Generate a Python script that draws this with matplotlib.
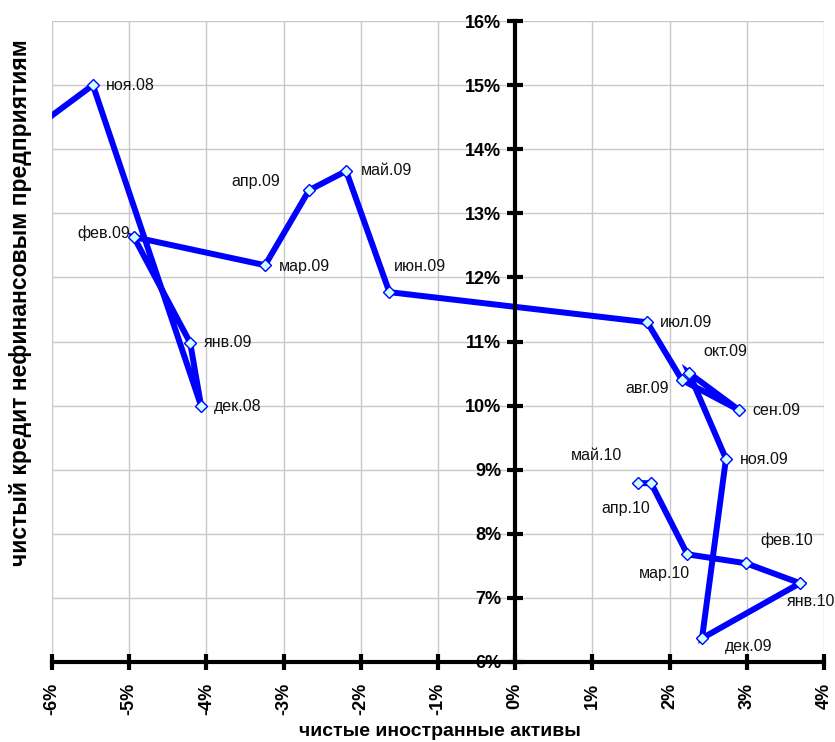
import matplotlib
matplotlib.use("Agg")
import matplotlib.pyplot as plt
from matplotlib.ticker import FuncFormatter, MultipleLocator

plt.rcParams['font.family'] = ['Liberation Sans', 'DejaVu Sans']

labels = ["", "ноя.08", "дек.08", "янв.09", "фев.09", "мар.09", "апр.09", "май.09",
          "июн.09", "июл.09", "авг.09", "сен.09", "окт.09", "ноя.09", "дек.09",
          "янв.10", "фев.10", "мар.10", "апр.10", "май.10"]
foreign_assets = [-6.5, -5.47, -4.07, -4.21, -4.94, -3.24, -2.67, -2.19,
                  -1.63, 1.71, 2.16, 2.90, 2.25, 2.73, 2.42,
                  3.69, 2.99, 2.23, 1.76, 1.59]
credit = [14.08, 15.00, 10.00, 10.98, 12.63, 12.19, 13.36, 13.66,
          11.77, 11.30, 10.40, 9.93, 10.51, 9.17, 6.37,
          7.23, 7.54, 7.68, 8.79, 8.79]

# label offsets in pixels (dx, dy, ha)
label_style = {
    "ноя.08": (13, 0, "left"), "дек.08": (13, -1, "left"), "янв.09": (14, 0, "left"),
    "фев.09": (-4, 4, "right"), "мар.09": (14, -1, "left"), "апр.09": (-29, 9, "right"),
    "май.09": (15, 0, "left"), "июн.09": (5, 26, "left"), "июл.09": (13, 0, "left"),
    "авг.09": (-13, -9, "right"), "сен.09": (13, 0, "left"), "окт.09": (14, 21, "left"),
    "ноя.09": (14, -1, "left"), "дек.09": (23, -8, "left"), "янв.10": (11, -18, "center"),
    "фев.10": (14, 23, "left"), "мар.10": (3, -19, "right"), "апр.10": (-1, -25, "right"),
    "май.10": (-16, 28, "right"),
}

fig = plt.figure(figsize=(8.35, 7.42), dpi=100)
ax = fig.add_axes([52/835, 1-662/742, (824-52)/835, (662-21)/742])

ax.set_xlim(-6, 4)
ax.set_ylim(6, 16)
ax.xaxis.set_major_locator(MultipleLocator(1))
ax.yaxis.set_major_locator(MultipleLocator(1))
ax.grid(True, color='#c8c8c8', linewidth=1.0)
ax.set_axisbelow(True)

ax.plot(foreign_assets, credit, color='#0000ff', linewidth=4.3,
        marker='D', markersize=6, markerfacecolor='#ccffff',
        markeredgecolor='#0000ff', markeredgewidth=1.0, zorder=3,
        solid_joinstyle='miter')

for lab, x, y in zip(labels, foreign_assets, credit):
    if not lab:
        continue
    dx, dy, ha = label_style[lab]
    ax.annotate(lab, (x, y), xytext=(dx, dy), textcoords='offset pixels',
                ha=ha, va='center', fontsize=11.5, color='#111111', zorder=4)

ax.spines['left'].set_position(('data', 0))
ax.spines['bottom'].set_position(('data', 6))
ax.spines['top'].set_visible(False)
ax.spines['right'].set_visible(False)
for s in ('left', 'bottom'):
    ax.spines[s].set_linewidth(3)
    ax.spines[s].set_zorder(5)

fmt = FuncFormatter(lambda v, p: f"{v:.0f}%")
ax.xaxis.set_major_formatter(fmt)
ax.yaxis.set_major_formatter(fmt)
ax.tick_params(axis='both', direction='inout', length=12, width=3,
               labelsize=13)
ax.tick_params(axis='y', pad=4)
ax.tick_params(axis='x', pad=9)
for t in ax.get_xticklabels():
    t.set_rotation(90)
    t.set_fontweight('bold')
for t in ax.get_yticklabels():
    t.set_fontweight('bold')

fig.text(440/835, 1-731/742, "чистые иностранные активы", ha='center', va='center',
         fontsize=14, fontweight='bold')
fig.text(21/835, 1-303/742, "чистый кредит нефинансовым предприятиям", ha='center',
         va='center', rotation=90, fontsize=16.5, fontweight='bold')

fig.savefig("out.png", dpi=100, facecolor='white')
